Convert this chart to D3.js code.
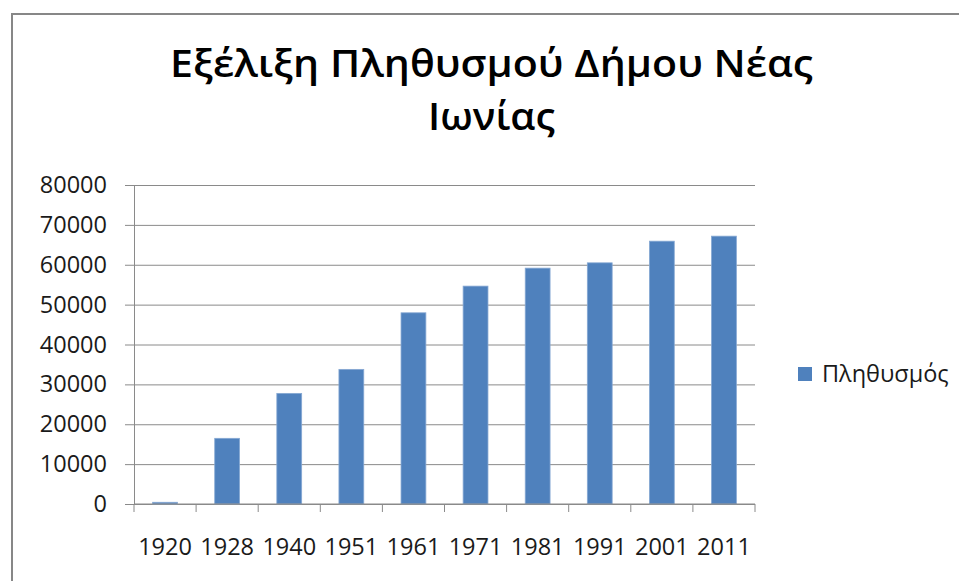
<!DOCTYPE html>
<html>
<head>
<meta charset="utf-8">
<script src="https://cdn.jsdelivr.net/npm/d3@7"></script>
<style>
  html, body { margin: 0; padding: 0; background: #fff; }
  svg { display: block; }
</style>
</head>
<body>
<script>
// data
const years = ["1920", "1928", "1940", "1951", "1961", "1971", "1981", "1991", "2001", "2011"]
const population = [430, 16470, 27740, 33760, 47950, 54640, 59150, 60480, 65910, 67170]
const yTicks = [0, 10000, 20000, 30000, 40000, 50000, 60000, 70000, 80000]
const titleLines = ["Εξέλιξη Πληθυσμού Δήμου Νέας", "Ιωνίας"]
const seriesName = "Πληθυσμός"

const width = 959
const height = 581
const marginLeft = 134, marginRight = 204, marginTop = 185, marginBottom = 77
const labelFont = "'Open Sans', 'Noto Sans', sans-serif"
const barColor = "#4f81bd"
const gridColor = "#8a8a8a"

const svg = d3.select("body").append("svg")
	.attr("width", width)
	.attr("height", height)
	.attr("viewBox", [0, 0, width, height])

// chart frame (runs off the right and bottom edges)
svg.append("rect")
	.attr("x", 12).attr("y", 14)
	.attr("width", width + 20).attr("height", height + 20)
	.attr("fill", "#fff")
	.attr("stroke", "#878787")
	.attr("stroke-width", 2)

const x = d3.scaleBand(years, [marginLeft, width - marginRight]).padding(0)
const y = d3.scaleLinear([0, 80000], [height - marginBottom, marginTop])

// gridlines + y axis
svg.append("g")
	.attr("transform", `translate(${marginLeft},0)`)
	.call(d3.axisLeft(y).tickValues(yTicks).tickSize(9).tickPadding(18).tickFormat(d3.format("d")))
	.call(g => g.select(".domain").attr("stroke", gridColor))
	.call(g => g.selectAll(".tick line").attr("stroke", gridColor))
	.call(g => g.selectAll(".tick").append("line")
		.attr("x1", 0).attr("x2", width - marginRight - marginLeft)
		.attr("stroke", gridColor))
	.call(g => g.selectAll(".tick text")
		.attr("font-family", labelFont)
		.attr("font-size", 23.5)
		.attr("fill", "#1a1a1a"))

// bars
const barW = x.bandwidth() * 0.4
svg.append("g")
	.selectAll("rect")
	.data(years)
	.join("rect")
	.attr("x", (d) => x(d) + (x.bandwidth() - barW) / 2)
	.attr("y", (d, i) => y(population[i]))
	.attr("width", barW)
	.attr("height", (d, i) => y(0) - y(population[i]))
	.attr("fill", barColor)
	.attr("stroke", "#86a8d3")
	.attr("stroke-width", 0.8)

// x axis: labels centred in bands, tick marks at band edges
svg.append("g")
	.attr("transform", `translate(0,${y(0)})`)
	.call(d3.axisBottom(x).tickSize(0).tickPadding(34))
	.call(g => g.select(".domain").remove())
	.call(g => g.selectAll(".tick text")
		.attr("font-family", labelFont)
		.attr("font-size", 23.5)
		.attr("fill", "#1a1a1a"))

svg.append("line")
	.attr("x1", marginLeft).attr("x2", width - marginRight)
	.attr("y1", y(0)).attr("y2", y(0))
	.attr("stroke", gridColor)

svg.append("g")
	.selectAll("line")
	.data(years.concat(["end"]))
	.join("line")
	.attr("x1", (d) => d === "end" ? x.range()[1] : x(d))
	.attr("x2", (d) => d === "end" ? x.range()[1] : x(d))
	.attr("y1", y(0)).attr("y2", y(0) + 8)
	.attr("stroke", gridColor)

// title: the original font is narrow, so squeeze a taller face into the same width
const titleSpans = [[titleLines[0], 77, 643], [titleLines[1], 129.5, 127]]
svg.append("g")
	.selectAll("text")
	.data(titleSpans)
	.join("text")
	.attr("x", 491.5)
	.attr("y", (d) => d[1])
	.attr("text-anchor", "middle")
	.attr("font-family", labelFont)
	.attr("font-weight", 600)
	.attr("font-size", 38)
	.attr("fill", "#000")
	.attr("textLength", (d) => d[2])
	.attr("lengthAdjust", "spacingAndGlyphs")
	.text((d) => d[0])

// legend
const legend = svg.append("g").attr("transform", "translate(798,367)")
legend.append("rect")
	.attr("width", 14).attr("height", 14)
	.attr("fill", barColor)
legend.append("text")
	.attr("x", 24).attr("y", 7)
	.attr("dy", "0.35em")
	.attr("font-family", labelFont)
	.attr("font-size", 23.5)
	.attr("fill", "#1a1a1a")
	.text(seriesName)
</script>
</body>
</html>
